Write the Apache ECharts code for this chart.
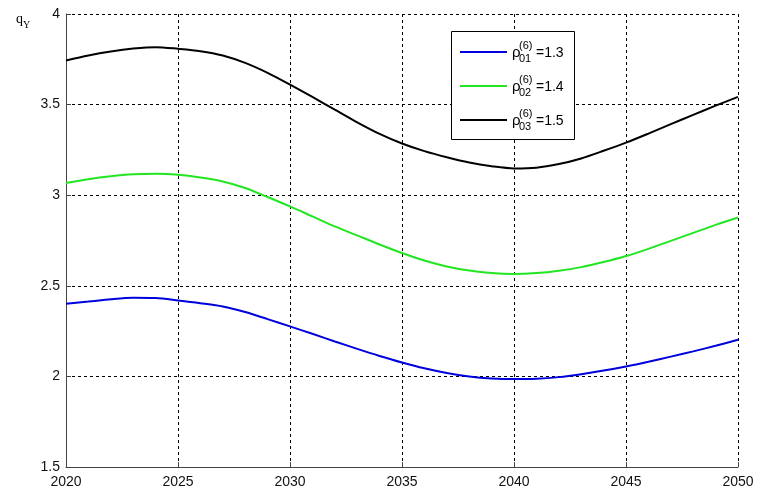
<!DOCTYPE html>
<html>
<head>
<meta charset="utf-8">
<script src="https://cdn.jsdelivr.net/npm/echarts@6/dist/echarts.min.js"></script>
<style>html,body{margin:0;padding:0;background:#fff;}#c{width:760px;height:489px;}</style>
</head>
<body>
<div id="c"></div>
<script>
var years = [2020, 2021, 2022, 2023, 2024, 2025, 2026, 2027, 2028, 2029, 2030,
             2031, 2032, 2033, 2034, 2035, 2036, 2037, 2038, 2039, 2040,
             2041, 2042, 2043, 2044, 2045, 2046, 2047, 2048, 2049, 2050];
var rho01 = [2.401, 2.413, 2.426, 2.434, 2.432, 2.419, 2.404, 2.386, 2.355, 2.316, 2.276,
             2.235, 2.193, 2.152, 2.113, 2.077, 2.045, 2.019, 2.000, 1.989, 1.985,
             1.987, 1.996, 2.012, 2.032, 2.055, 2.081, 2.109, 2.138, 2.169, 2.202];
var rho02 = [3.067, 3.088, 3.104, 3.115, 3.119, 3.113, 3.098, 3.076, 3.040, 2.990, 2.938,
             2.883, 2.828, 2.778, 2.728, 2.681, 2.640, 2.607, 2.584, 2.570, 2.565,
             2.570, 2.583, 2.603, 2.631, 2.664, 2.704, 2.748, 2.792, 2.836, 2.877];
var rho03 = [3.743, 3.771, 3.793, 3.809, 3.817, 3.808, 3.795, 3.771, 3.730, 3.675, 3.610,
             3.542, 3.472, 3.402, 3.338, 3.285, 3.243, 3.209, 3.180, 3.160, 3.148,
             3.152, 3.172, 3.203, 3.245, 3.290, 3.340, 3.392, 3.443, 3.494, 3.543];
var seriesNames = ['ρ01(6)=1.3', 'ρ02(6)=1.4', 'ρ03(6)=1.5'];
var legendSub = ['01', '02', '03'];
var legendVal = ['=1.3', '=1.4', '=1.5'];
var colors = ['#0000dd', '#22e622', '#000000'];

function pairs(v) { return years.map(function (y, i) { return [y, v[i]]; }); }

var chart = echarts.init(document.getElementById('c'), null, { renderer: 'canvas' });
var font = 'Liberation Sans, Arial, sans-serif';

var legendGraphics = [{
  type: 'rect', shape: { x: 451.5, y: 31.5, width: 123, height: 108 },
  style: { fill: '#fff', stroke: '#000', lineWidth: 1 }, z: 100
}];
for (var i = 0; i < 3; i++) {
  var cy = 52 + i * 34;
  legendGraphics.push({ type: 'line', shape: { x1: 460, y1: cy, x2: 507, y2: cy }, style: { stroke: colors[i], lineWidth: 2 }, z: 101 });
  legendGraphics.push({ type: 'text', style: { x: 512, y: cy + 1, text: 'ρ', font: '15px ' + font, fill: '#000', textVerticalAlign: 'middle' }, z: 101 });
  legendGraphics.push({ type: 'text', style: { x: 519, y: cy - 6, text: '(6)', font: '11px ' + font, fill: '#000', textVerticalAlign: 'middle' }, z: 101 });
  legendGraphics.push({ type: 'text', style: { x: 519, y: cy + 7, text: legendSub[i], font: '11px ' + font, fill: '#000', textVerticalAlign: 'middle' }, z: 101 });
  legendGraphics.push({ type: 'text', style: { x: 536, y: cy + 1, text: legendVal[i], font: '14px ' + font, fill: '#000', textVerticalAlign: 'middle' }, z: 101 });
}
legendGraphics.push({ type: 'text', style: { x: 16, y: 19, text: 'q', font: '14px Liberation Serif, Times New Roman, serif', fill: '#000', textVerticalAlign: 'middle' } });
legendGraphics.push({ type: 'text', style: { x: 23, y: 25, text: 'Y', font: '10px Liberation Serif, Times New Roman, serif', fill: '#000', textVerticalAlign: 'middle' } });

var gridLine = { show: true, lineStyle: { color: '#000', width: 1, type: [3, 3] } };

chart.setOption({
  animation: false,
  backgroundColor: '#fff',
  grid: { left: 66, right: 22, top: 14, bottom: 22, containLabel: false },
  xAxis: {
    type: 'value', min: 2020, max: 2050, interval: 5,
    axisLine: { show: true, onZero: false, lineStyle: { color: '#444', width: 1 } },
    axisTick: { show: true, inside: true, length: 5, lineStyle: { color: '#444' } },
    axisLabel: { color: '#111', fontSize: 14, fontFamily: font, margin: 8, formatter: function (v) { return String(v); } },
    splitLine: gridLine
  },
  yAxis: {
    type: 'value', min: 1.5, max: 4, interval: 0.5,
    axisLine: { show: true, onZero: false, lineStyle: { color: '#444', width: 1 } },
    axisTick: { show: true, inside: true, length: 5, lineStyle: { color: '#444' } },
    axisLabel: { color: '#111', fontSize: 14, fontFamily: font, margin: 6 },
    splitLine: gridLine
  },
  series: [rho01, rho02, rho03].map(function (v, i) {
    return {
      name: seriesNames[i], type: 'line', data: pairs(v), smooth: 0.3, showSymbol: false,
      lineStyle: { color: colors[i], width: 2 }, itemStyle: { color: colors[i] }, z: 3
    };
  }),
  graphic: legendGraphics
});
</script>
</body>
</html>
